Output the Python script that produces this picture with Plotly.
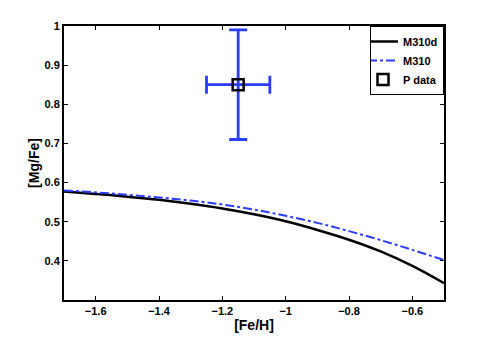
import plotly.graph_objects as go

# model curves
fe_h = [-1.7, -1.6, -1.5, -1.4, -1.3, -1.2, -1.1, -1.0, -0.9, -0.8, -0.7, -0.6, -0.5]
mg_fe_m310d = [0.577, 0.571, 0.564, 0.556, 0.546, 0.534, 0.519, 0.501, 0.479, 0.454, 0.424, 0.387, 0.343]
mg_fe_m310 = [0.580, 0.575, 0.569, 0.562, 0.554, 0.544, 0.531, 0.515, 0.497, 0.476, 0.453, 0.428, 0.402]

# observed point
p_fe_h = [-1.15]
p_mg_fe = [0.85]
p_err_fe_h = [0.10]
p_err_mg_fe = [0.14]

x_ticks = [-1.6, -1.4, -1.2, -1.0, -0.8, -0.6]
y_ticks = [0.4, 0.5, 0.6, 0.7, 0.8, 0.9, 1.0]

font_bold = "Liberation Sans"

fig = go.Figure()

fig.add_trace(
    go.Scatter(
        x=fe_h,
        y=mg_fe_m310d,
        mode="lines",
        name="<b>M310d</b>",
        line={"color": "black", "width": 2.5, "shape": "spline"},
    )
)
fig.add_trace(
    go.Scatter(
        x=fe_h,
        y=mg_fe_m310,
        mode="lines",
        name="<b>M310</b>",
        line={"color": "#2a3cff", "width": 2, "dash": "dashdot", "shape": "spline"},
    )
)
fig.add_trace(
    go.Scatter(
        x=p_fe_h,
        y=p_mg_fe,
        mode="markers",
        name="<b>P data</b>",
        marker={"symbol": "square-open", "size": 11, "color": "black", "line": {"width": 2.5}},
        error_x={"type": "data", "array": p_err_fe_h, "color": "#2a3cff", "thickness": 2.8, "width": 9},
        error_y={"type": "data", "array": p_err_mg_fe, "color": "#2a3cff", "thickness": 2.8, "width": 9},
    )
)

axis_common = dict(
    showline=True,
    linecolor="black",
    linewidth=2,
    mirror="ticks",
    ticks="inside",
    ticklen=4,
    tickwidth=1,
    tickcolor="black",
    showgrid=False,
    zeroline=False,
    tickfont={"family": font_bold, "size": 11, "color": "black", "weight": "bold"},
)

fig.update_xaxes(
    range=[-1.7, -0.5],
    tickvals=x_ticks,
    title={"text": "<b>[Fe/H]</b>", "font": {"family": font_bold, "size": 14, "color": "black"}, "standoff": 4},
    **axis_common,
)
fig.update_yaxes(
    range=[0.3, 1.0],
    tickvals=y_ticks,
    ticktext=["0.4", "0.5", "0.6", "0.7", "0.8", "0.9", "1"],
    title={"text": "<b>[Mg/Fe]</b>", "font": {"family": font_bold, "size": 14, "color": "black"}, "standoff": 2},
    **axis_common,
)

# page body adds ~8px offset, so size and margins are compensated
fig.update_layout(
    width=483,
    height=335,
    paper_bgcolor="white",
    plot_bgcolor="white",
    margin={"l": 56, "r": 47, "t": 18, "b": 39},
    showlegend=True,
    legend={
        "x": 1,
        "y": 1,
        "xanchor": "right",
        "yanchor": "top",
        "bgcolor": "white",
        "bordercolor": "black",
        "borderwidth": 1,
        "font": {"family": font_bold, "size": 11, "color": "black"},
        "itemwidth": 30,
        "tracegroupgap": 0,
        "indentation": -8,
    },
)

fig.write_html("out.html")
